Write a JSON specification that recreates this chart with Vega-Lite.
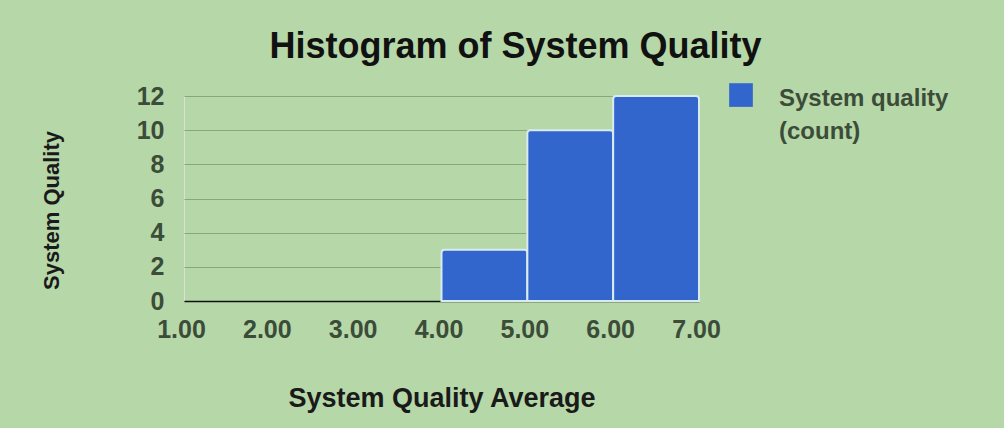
{
  "$schema": "https://vega.github.io/schema/vega-lite/v6.json",
  "width": 515,
  "height": 205,
  "autosize": {"type": "none"},
  "padding": {"left": 184, "top": 96, "right": 305, "bottom": 127},
  "background": "#b6d7a8",
  "config": {
    "style": {"guide-label": {"lineHeight": 33}}
  },
  "title": {
    "text": "Histogram of System Quality",
    "font": "Liberation Sans",
    "fontWeight": "bold",
    "fontSize": 36,
    "color": "#111111",
    "anchor": "middle",
    "dx": 74,
    "dy": 53,
    "offset": 34,
    "baseline": "alphabetic"
  },
  "data": {
    "values": [
      {"bin_start": 4, "bin_end": 5, "count": 3, "series": "System quality (count)"},
      {"bin_start": 5, "bin_end": 6, "count": 10, "series": "System quality (count)"},
      {"bin_start": 6, "bin_end": 7, "count": 12, "series": "System quality (count)"}
    ]
  },
  "mark": {
    "type": "bar",
    "stroke": "#d8ecef",
    "strokeWidth": 2,
    "cornerRadiusTopLeft": 3,
    "cornerRadiusTopRight": 3
  },
  "encoding": {
    "x": {
      "field": "bin_start",
      "type": "quantitative",
      "scale": {"domain": [1, 7], "nice": false, "zero": false},
      "axis": {
        "title": "System Quality Average",
        "values": [1, 2, 3, 4, 5, 6, 7],
        "format": ".2f",
        "grid": false,
        "ticks": false,
        "domain": true,
        "domainColor": "#111111",
        "domainWidth": 1.5,
        "labelFont": "Liberation Sans",
        "labelFontWeight": "bold",
        "labelFontSize": 25,
        "labelLineHeight": 25,
        "labelColor": "#3b4c38",
        "labelPadding": 16,
        "labelOffset": -3,
        "labelFlush": false,
        "titleFont": "Liberation Sans",
        "titleFontWeight": "bold",
        "titleFontSize": 27,
        "titleColor": "#1a1a1a",
        "titlePadding": 43
      }
    },
    "x2": {"field": "bin_end"},
    "y": {
      "field": "count",
      "type": "quantitative",
      "stack": null,
      "scale": {"domain": [0, 12], "nice": false},
      "axis": {
        "title": "System Quality",
        "values": [0, 2, 4, 6, 8, 10, 12],
        "grid": true,
        "gridColor": "#86a87a",
        "gridWidth": 1.2,
        "ticks": false,
        "domain": false,
        "labelFont": "Liberation Sans",
        "labelFontWeight": "bold",
        "labelFontSize": 25,
        "labelLineHeight": 25,
        "labelColor": "#3b4c38",
        "labelPadding": 20,
        "titleFont": "Liberation Sans",
        "titleFontWeight": "bold",
        "titleFontSize": 22,
        "titleColor": "#1a1a1a",
        "titlePadding": 73,
        "titleY": 114
      }
    },
    "y2": {"datum": 0},
    "color": {
      "field": "series",
      "type": "nominal",
      "scale": {"range": ["#3366cc"]},
      "legend": {
        "title": null,
        "orient": "none",
        "legendX": 545,
        "legendY": -21,
        "symbolType": "M-1,-0.32L1,-0.32L1,1.68L-1,1.68Z",
        "symbolSize": 560,
        "symbolStrokeWidth": 0,
        "symbolOpacity": 1,
        "labelFont": "Liberation Sans",
        "labelFontWeight": "bold",
        "labelFontSize": 24,
        "labelColor": "#3b4c38",
        "labelOffset": 26,
        "labelLimit": 300,
        "labelBaseline": "top",
        "labelExpr": "['System quality', '(count)']"
      }
    }
  }
}
